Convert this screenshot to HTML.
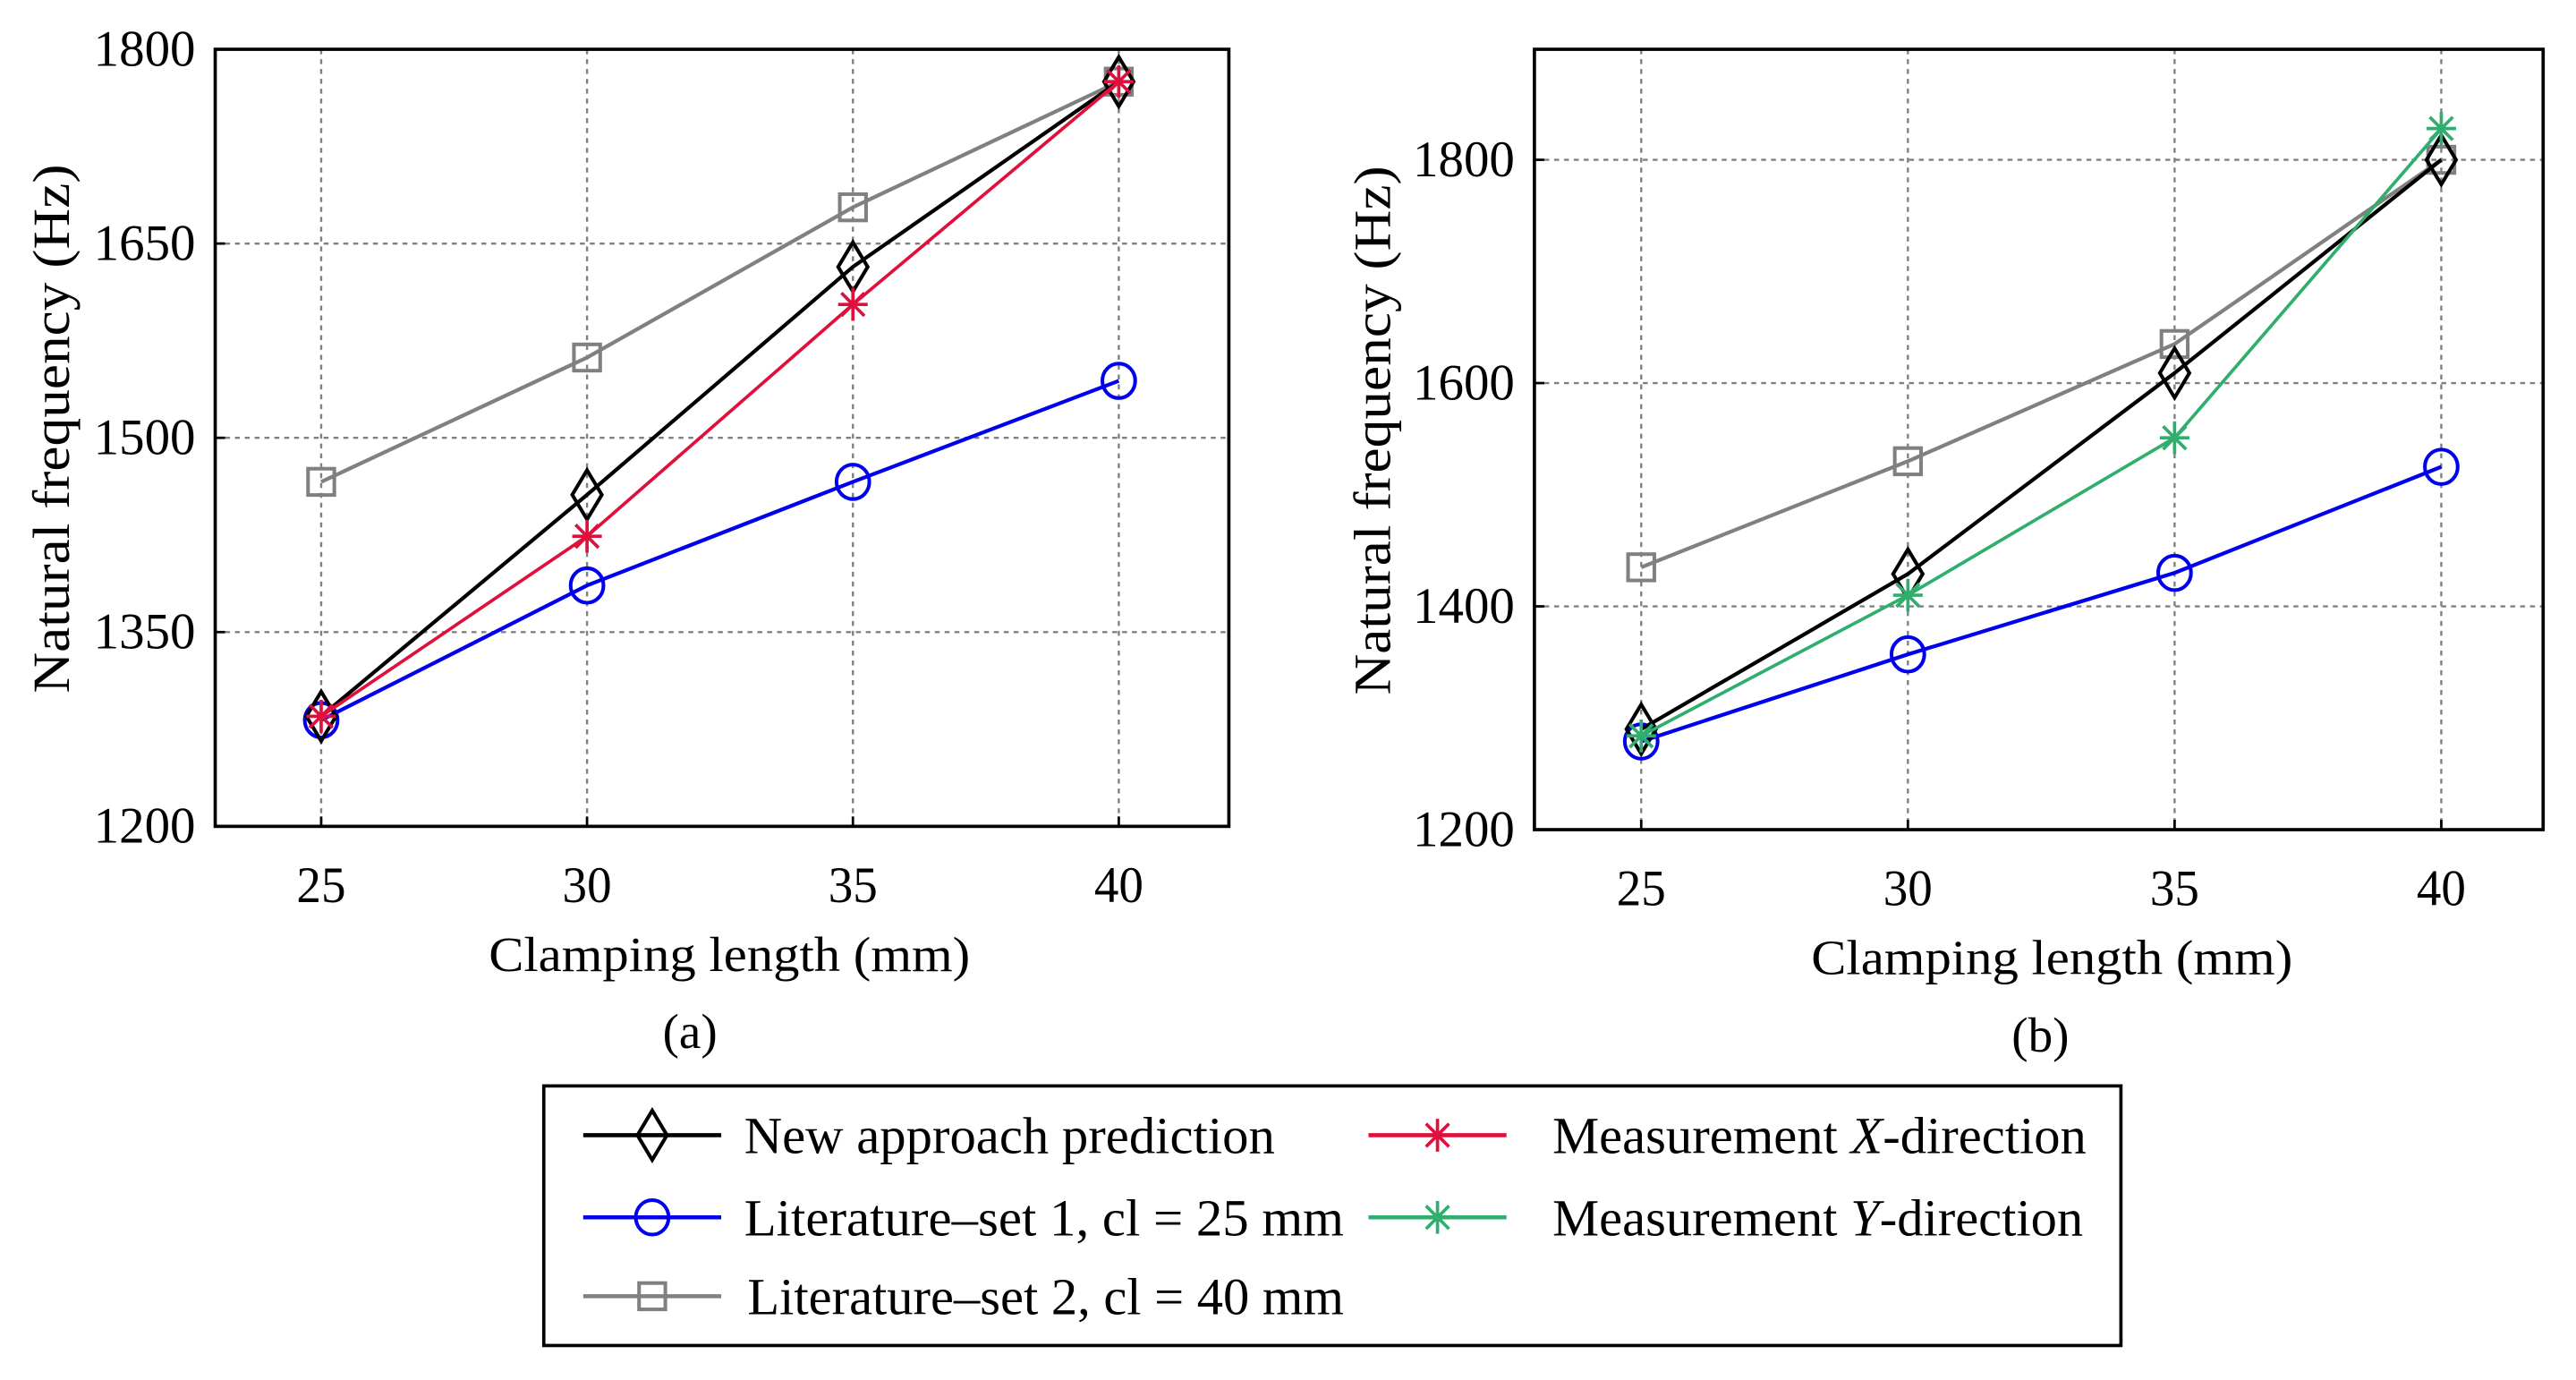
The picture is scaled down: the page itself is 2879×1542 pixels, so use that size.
<!DOCTYPE html>
<html><head><meta charset="utf-8"><style>
html,body{margin:0;padding:0;background:#fff;}
svg{display:block;}
text{font-family:"Liberation Serif",serif;fill:#000;}
</style></head><body>
<svg id="fig" width="2879" height="1542" viewBox="0 0 1568 840" preserveAspectRatio="none" xmlns="http://www.w3.org/2000/svg">
<g id="ga"></g>
<g id="gb"></g>
<g id="leg"></g>
</svg>
<script>
const categories = [25, 30, 35, 40];
const aNew = [1285, 1456, 1632, 1775];
const aMeasX = [1285, 1424, 1603, 1775];
const aLit1 = [1282, 1386, 1466, 1544];
const aLit2 = [1466, 1562, 1678, 1775];
const bNew = [1290, 1429, 1609, 1800];
const bMeasY = [1284, 1410, 1551, 1828];
const bLit1 = [1279, 1357, 1430, 1525];
const bLit2 = [1435, 1530, 1635, 1800];
const aYTicks = [1200, 1350, 1500, 1650, 1800];
const bYTicks = [1200, 1400, 1600, 1800];
const xTickLabels = ["25", "30", "35", "40"];

const NS = "http://www.w3.org/2000/svg";
function mk(parent, tag, attrs){const e=document.createElementNS(NS,tag);for(const k in attrs)e.setAttribute(k,attrs[k]);parent.appendChild(e);return e;}

const COL = {newp:"#000000", lit1:"#0000ee", lit2:"#808080", measX:"#e0103c", measY:"#2fae6e"};

function marker(g, type, x, y, color){
  let m;
  if(type==="diamond"){ m=mk(g,"polygon",{points:`${x},${y-15} ${x+9},${y} ${x},${y+15} ${x-9},${y}`,fill:"none",stroke:color,"stroke-width":2.2}); }
  else if(type==="circle"){ m=mk(g,"ellipse",{cx:x,cy:y,rx:10,ry:10.5,fill:"none",stroke:color,"stroke-width":2.2}); }
  else if(type==="square"){ m=mk(g,"rect",{x:x-8,y:y-8,width:16,height:16,fill:"none",stroke:color,"stroke-width":2.2}); }
  else { m=mk(g,"path",{d:`M${x-9},${y}H${x+9}M${x},${y-10}V${y+10}M${x-7},${y-7}L${x+7},${y+7}M${x-7},${y+7}L${x+7},${y-7}`,stroke:color,"stroke-width":2,fill:"none"}); }
  return m;
}

function drawChart(g, box, ymin, ymax, yticks, series, label){
  const xs = v => box.x25 + (v-25)/15*(box.x40-box.x25);
  const ys = v => box.b - (v-ymin)/(ymax-ymin)*(box.b-box.t);
  categories.forEach(c=>{
    const gl=mk(g,"line",{x1:xs(c),x2:xs(c),y1:box.t,y2:box.b,stroke:"#808080","stroke-width":1.3,"stroke-dasharray":"3,3"});
    
    
  });
  yticks.forEach(v=>{
    if(v===ymin) return;
    const gl=mk(g,"line",{x1:box.l,x2:box.r,y1:ys(v),y2:ys(v),stroke:"#808080","stroke-width":1.3,"stroke-dasharray":"3,3"});
    
    
  });
  const fr=mk(g,"rect",{x:box.l,y:box.t,width:box.r-box.l,height:box.b-box.t,fill:"none",stroke:"#000","stroke-width":2});
  
  
  categories.forEach((c,i)=>{
    mk(g,"line",{x1:xs(c),x2:xs(c),y1:box.b,y2:box.b-6,stroke:"#000","stroke-width":1.5});
    const t=mk(g,"text",{x:xs(c),y:box.b+46,"text-anchor":"middle","font-size":31,textLength:30,lengthAdjust:"spacingAndGlyphs"});
    t.textContent=xTickLabels[i];
    
    
  });
  yticks.forEach(v=>{
    mk(g,"line",{x1:box.l,x2:box.l+6,y1:ys(v),y2:ys(v),stroke:"#000","stroke-width":1.5});
    const t=mk(g,"text",{x:box.l-12,y:ys(v)+10,"text-anchor":"end","font-size":31,textLength:62,lengthAdjust:"spacingAndGlyphs"});
    t.textContent=String(v);
    
    
  });
  series.forEach(s=>{
    const sg=mk(g,"g",{});
    
    
    const pts=s.values.map((v,i)=>xs(categories[i])+","+ys(v)).join(" ");
    mk(sg,"polyline",{points:pts,fill:"none",stroke:s.color,"stroke-width":s.w||2.3});
    s.values.forEach((v,i)=>{
      const m=marker(sg,s.marker,xs(categories[i]),ys(v),s.color);
      
      
    });
  });
  const xl=mk(g,"text",{x:box.xlab,y:box.b+88,"text-anchor":"middle","font-size":30,textLength:293,lengthAdjust:"spacingAndGlyphs"});
  xl.textContent="Clamping length (mm)";
  
  
  const cx=box.ylx, cy=box.yly;
  const yl=mk(g,"text",{x:cx,y:cy,"text-anchor":"middle","font-size":32,textLength:322,lengthAdjust:"spacingAndGlyphs",transform:`rotate(-90 ${cx} ${cy})`});
  yl.textContent="Natural frequency (Hz)";
  
  
  const cap=mk(g,"text",{x:box.cap,y:box.b+135,"text-anchor":"middle","font-size":30});
  cap.textContent=label;
  
  
}

drawChart(document.getElementById("ga"),{l:131,r:748,t:30,b:503,x25:195.5,x40:681,cap:420,xlab:444,ylx:42,yly:261},1200,1800,aYTicks,[
  {name:"series-literature-set-2",values:aLit2,color:COL.lit2,marker:"square"},
  {name:"series-literature-set-1",values:aLit1,color:COL.lit1,marker:"circle"},
  {name:"series-new-approach",values:aNew,color:COL.newp,marker:"diamond"},
  {name:"series-measurement-x",values:aMeasX,color:COL.measX,marker:"star",w:2}
],"(a)");
drawChart(document.getElementById("gb"),{l:934,r:1548,t:30,b:505,x25:999,x40:1486,cap:1242,xlab:1249,ylx:846,yly:262},1200,1899,bYTicks,[
  {name:"series-literature-set-2",values:bLit2,color:COL.lit2,marker:"square"},
  {name:"series-literature-set-1",values:bLit1,color:COL.lit1,marker:"circle"},
  {name:"series-new-approach",values:bNew,color:COL.newp,marker:"diamond"},
  {name:"series-measurement-y",values:bMeasY,color:COL.measY,marker:"star",w:2}
],"(b)");

const leg=document.getElementById("leg");
const lb=mk(leg,"rect",{x:331,y:661,width:960,height:158,fill:"#fff",stroke:"#000","stroke-width":2});


const entries=[
  {t:"New approach prediction",c:COL.newp,m:"diamond",x:355,y:691,tx:453,len:323},
  {t:"Literature–set 1, cl = 25 mm",c:COL.lit1,m:"circle",x:355,y:741,tx:453,len:365},
  {t:"Literature–set 2, cl = 40 mm",c:COL.lit2,m:"square",x:355,y:789,tx:455,len:363},
  {t:"Measurement X-direction",c:COL.measX,m:"star",x:833,y:691,tx:945,len:325,it:"X"},
  {t:"Measurement Y-direction",c:COL.measY,m:"star",x:833,y:741,tx:945,len:323,it:"Y"}
];
entries.forEach(e=>{
  const g=mk(leg,"g",{});
  
  
  mk(g,"line",{x1:e.x,x2:e.x+84,y1:e.y,y2:e.y,stroke:e.c,"stroke-width":2.5});
  marker(g,e.m,e.x+42,e.y,e.c);
  const t=mk(g,"text",{x:e.tx,y:e.y+11,"font-size":32,textLength:e.len,lengthAdjust:"spacingAndGlyphs"});
  if(e.it){
    const parts=e.t.split(e.it+"-");
    t.appendChild(document.createTextNode(parts[0]));
    const ts=mk(t,"tspan",{"font-style":"italic"});ts.textContent=e.it;
    t.appendChild(document.createTextNode("-"+parts[1]));
  } else t.textContent=e.t;
});
</script>
</body></html>
